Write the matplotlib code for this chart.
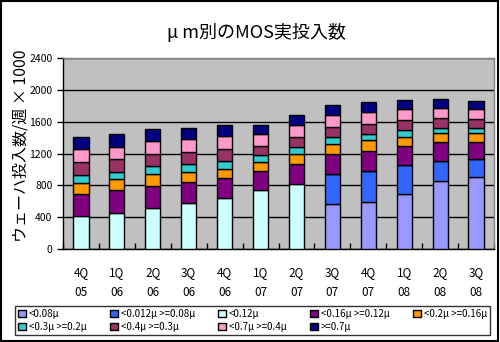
import matplotlib.pyplot as plt
from matplotlib.patches import Rectangle
import numpy as np

plt.rcParams['font.family'] = ['Noto Sans CJK JP', 'DejaVu Sans']

quarters = ["4Q\n05", "1Q\n06", "2Q\n06", "3Q\n06", "4Q\n06", "1Q\n07", "2Q\n07",
            "3Q\n07", "4Q\n07", "1Q\n08", "2Q\n08", "3Q\n08"]

labels = ["<0.08μ", "<0.012μ >=0.08μ", "<0.12μ", "<0.16μ >=0.12μ", "<0.2μ >=0.16μ",
          "<0.3μ >=0.2μ", "<0.4μ >=0.3μ", "<0.7μ >=0.4μ", ">=0.7μ"]
colors = ["#9999FF", "#3366FF", "#CCFFFF", "#800080", "#FF9900",
          "#33CCCC", "#993366", "#FF99CC", "#000080"]

# wafer starts per week x 1000, by geometry
lt008 = [0, 0, 0, 0, 0, 0, 0, 571, 596, 696, 850, 908]
lt012 = [0, 0, 0, 0, 0, 0, 0, 375, 387, 362, 258, 225]
lt012b = [420, 458, 521, 583, 646, 746, 821, 0, 0, 0, 0, 0]
lt016 = [275, 288, 275, 263, 250, 237, 250, 250, 250, 238, 238, 213]
lt02 = [140, 137, 150, 125, 112, 113, 125, 125, 138, 112, 112, 112]
lt03 = [100, 87, 100, 100, 100, 87, 87, 87, 75, 88, 63, 63]
lt04 = [160, 163, 150, 150, 150, 117, 125, 125, 125, 125, 125, 112]
lt07 = [160, 154, 162, 162, 163, 146, 150, 150, 150, 137, 125, 125]
ge07 = [155, 159, 150, 142, 141, 116, 129, 129, 129, 117, 116, 104]

series = [lt008, lt012, lt012b, lt016, lt02, lt03, lt04, lt07, ge07]

fig = plt.figure(figsize=(5.0, 3.42), dpi=100)
fig.patches.append(Rectangle((0.002, 0.003), 0.993, 0.994, transform=fig.transFigure,
                             fill=False, edgecolor="black", linewidth=1.5))

ax = fig.add_axes([63 / 500, 93 / 342, 431 / 500, 191 / 342])
ax.set_facecolor("#C0C0C0")

x = np.arange(len(quarters))
bottom = np.zeros(len(quarters))
handles = []
for vals, col, lab in zip(series, colors, labels):
    v = np.array(vals, dtype=float)
    b = ax.bar(x, v, 0.42, bottom=bottom, color=col, edgecolor="black",
               linewidth=1.0, label=lab, zorder=3)
    handles.append(b)
    bottom += v

ax.set_xlim(-0.5, len(quarters) - 0.5)
ax.set_ylim(0, 2400)
ax.set_yticks(np.arange(0, 2401, 400))
ax.yaxis.grid(True, color="black", linewidth=1.0, zorder=0)
ax.set_axisbelow(True)
ax.set_xticks(x)
ax.set_xticklabels(quarters, fontsize=8.5, linespacing=1.75)
ax.tick_params(axis="x", length=0, pad=12)
ax.set_xticks(np.arange(-0.5, len(quarters)), minor=True)
ax.tick_params(axis="x", which="minor", direction="in", length=4, width=1)
ax.tick_params(axis="y", labelsize=7.5, length=4, width=1)
for s in ax.spines.values():
    s.set_linewidth(1.0)
for s in ["top", "right"]:
    ax.spines[s].set_color("#808080")

ax.set_ylabel("ウェーハ投入数/週 × 1000", fontsize=11.5)
ax.yaxis.set_label_coords(-0.078, 0.54)
fig.text(0.512, 0.905, "μ m別のMOS実投入数", ha="center", va="center", fontsize=13)

order = [0, 5, 1, 6, 2, 7, 3, 8, 4]
leg = fig.legend([handles[i] for i in order], [labels[i] for i in order],
                 ncol=5, loc="lower left", bbox_to_anchor=(15 / 500, 7 / 342, 475 / 500, 35 / 342),
                 mode="expand", fontsize=7, frameon=True, fancybox=False,
                 handlelength=0.8, handleheight=0.8, handletextpad=0.3,
                 columnspacing=0.4, borderaxespad=0, labelspacing=0.35, borderpad=0.3)
leg.get_frame().set_edgecolor("black")
leg.get_frame().set_linewidth(1.0)

fig.savefig("out.png", dpi=100)
